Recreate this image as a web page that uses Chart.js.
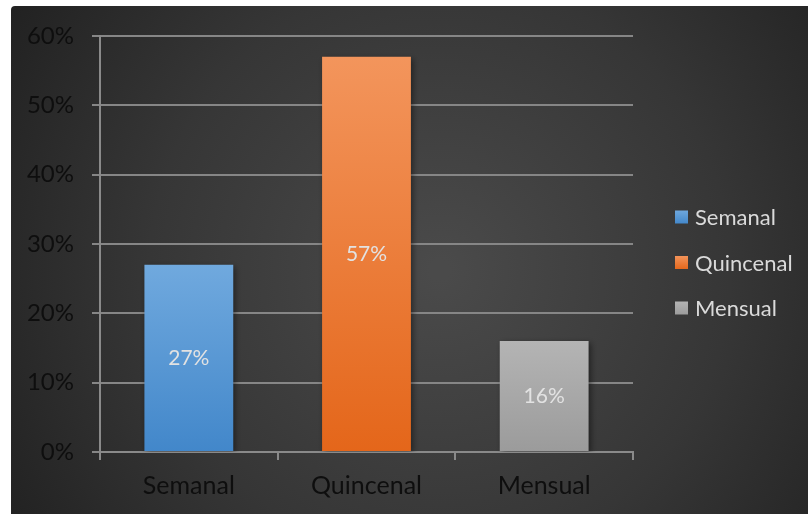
<!DOCTYPE html>
<html>
<head>
<meta charset="utf-8">
<script src="https://cdn.jsdelivr.net/npm/chart.js@4"></script>
<style>
  html, body { margin: 0; padding: 0; background: #ffffff; }
  #wrap { width: 808px; height: 514px; }
</style>
</head>
<body>
<div id="wrap"><canvas id="c" width="808" height="514"></canvas></div>
<script>
// Frequency of payment (share of respondents)
const categories = ['Semanal', 'Quincenal', 'Mensual'];
const shares = [27, 57, 16];
const yTickValues = [0, 10, 20, 30, 40, 50, 60];

// Bar fills: light at the top, deeper at the base
const topColors = ['#70a9de', '#f3955c', '#b4b4b4'];
const baseColors = ['#4287ca', '#e4661a', '#9b9b9b'];
const legendColors = ['#5b9bd5', '#ed7d31', '#a5a5a5'];

const FONT = 'Lato, "Open Sans", sans-serif';

const backdrop = {
  id: 'backdrop',
  beforeDraw(chart) {
    const c = chart.ctx;
    c.save();
    const g = c.createRadialGradient(440, 270, 10, 440, 270, 520);
    g.addColorStop(0, '#4a4a4a');
    g.addColorStop(0.55, '#363636');
    g.addColorStop(1, '#202020');
    c.fillStyle = g;
    c.beginPath();
    c.roundRect(11, 6, 808 - 11, 514 - 6, [4, 0, 0, 0]);
    c.fill();
    c.restore();
  }
};

const barShadow = {
  id: 'barShadow',
  beforeDatasetsDraw(chart) {
    const c = chart.ctx;
    c.save();
    c.shadowColor = 'rgba(0,0,0,0.45)';
    c.shadowBlur = 6;
    c.shadowOffsetX = 2;
    c.shadowOffsetY = 2;
  },
  afterDatasetsDraw(chart) {
    chart.ctx.restore();
    // value labels, centred in each bar
    const c = chart.ctx;
    const meta = chart.getDatasetMeta(0);
    c.save();
    c.font = '21px ' + FONT;
    c.fillStyle = '#e2e2e2';
    c.textAlign = 'center';
    c.textBaseline = 'middle';
    meta.data.forEach((bar, i) => {
      c.fillText(shares[i] + '%', bar.x, (bar.y + bar.base) / 2);
    });
    c.restore();
  }
};

const sideLegend = {
  id: 'sideLegend',
  afterDraw(chart) {
    const c = chart.ctx;
    c.save();
    c.font = '22px ' + FONT;
    c.textBaseline = 'middle';
    c.textAlign = 'left';
    const startY = 217, step = 45.5;
    categories.forEach((name, i) => {
      const cy = startY + i * step;
      const g = c.createLinearGradient(0, cy - 7, 0, cy + 7);
      g.addColorStop(0, topColors[i]);
      g.addColorStop(1, baseColors[i]);
      c.fillStyle = g;
      c.fillRect(675, cy - 6.5, 13, 13);
      c.fillStyle = '#dadada';
      c.fillText(name, 695, cy + 1);
    });
    c.restore();
  }
};

new Chart(document.getElementById('c'), {
  type: 'bar',
  data: {
    labels: categories,
    datasets: [{
      data: shares,
      categoryPercentage: 0.5,
      barPercentage: 1,
      borderWidth: 0,
      backgroundColor(ctx) {
        const chart = ctx.chart;
        const i = ctx.dataIndex;
        if (!chart.chartArea || i === undefined) return legendColors[i || 0];
        const y = chart.scales.y;
        const g = chart.ctx.createLinearGradient(0, y.getPixelForValue(shares[i]), 0, y.getPixelForValue(0));
        g.addColorStop(0, topColors[i]);
        g.addColorStop(1, baseColors[i]);
        return g;
      }
    }]
  },
  options: {
    responsive: false,
    animation: false,
    devicePixelRatio: 1,
    layout: { padding: { left: 11, top: 36, right: 175, bottom: 6 } },
    plugins: {
      legend: { display: false },
      tooltip: { enabled: false }
    },
    scales: {
      x: {
        afterFit(scale) { scale.height = 56; },
        grid: { drawOnChartArea: false, drawTicks: true, tickLength: 8, color: '#8a8a8a', lineWidth: 2, offset: true },
        border: { display: true, color: '#8a8a8a', width: 2 },
        ticks: { color: '#0e0e0e', font: { family: FONT, size: 25 }, padding: 11 }
      },
      y: {
        min: 0,
        max: 60,
        afterFit(scale) { scale.width = 89; },
        afterBuildTicks(scale) { scale.ticks = yTickValues.map(v => ({ value: v })); },
        grid: { color: '#868686', tickLength: 8, lineWidth: 2 },
        border: { display: true, color: '#8a8a8a', width: 2 },
        ticks: { color: '#0e0e0e', font: { family: FONT, size: 24 }, padding: 18, callback: v => v + '%' }
      }
    }
  },
  plugins: [backdrop, barShadow, sideLegend]
});
</script>
</body>
</html>
